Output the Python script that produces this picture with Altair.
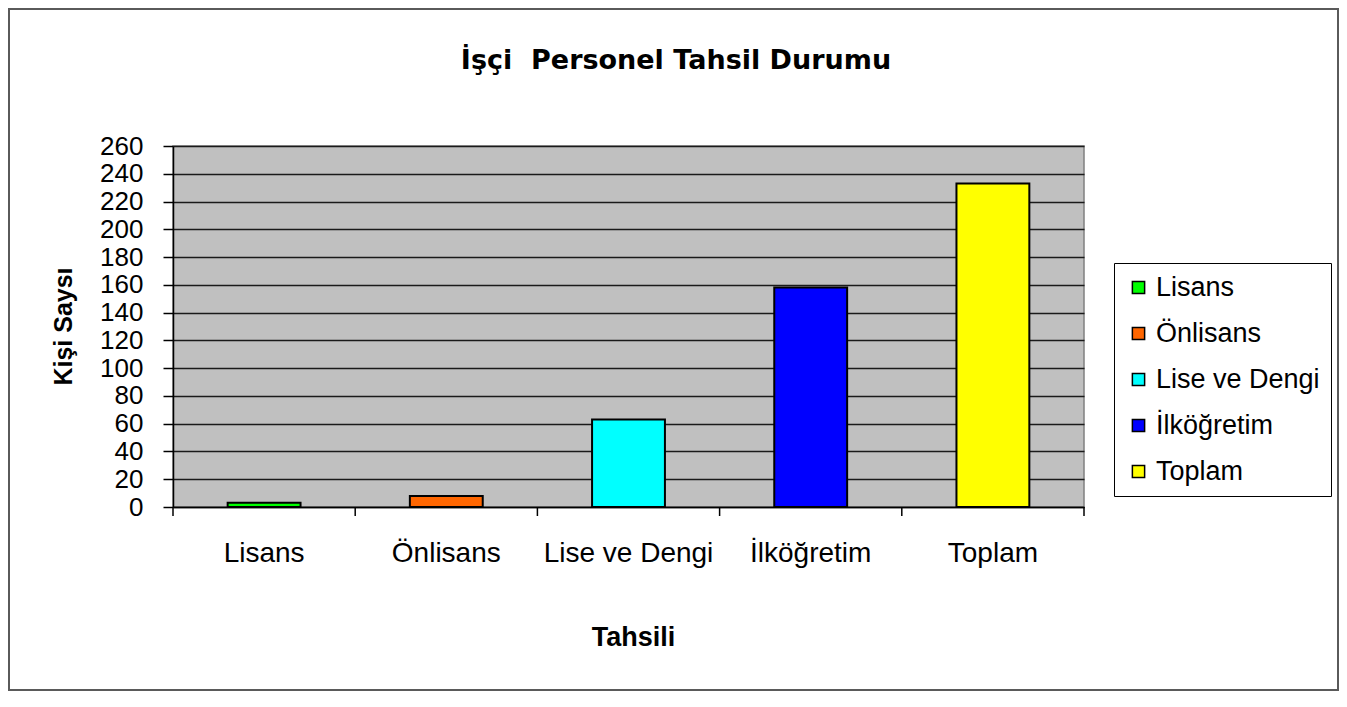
import altair as alt
import pandas as pd

categories = ["Lisans", "Önlisans", "Lise ve Dengi", "İlköğretim", "Toplam"]
values = [3, 8, 63, 158, 233]
colors = ["#00FF00", "#FF6600", "#00FFFF", "#0000FF", "#FFFF00"]
y_ticks = list(range(0, 261, 20))
chart_title = "İşçi\u00a0 Personel Tahsil Durumu"
y_title = "Kişi Saysı"
x_title = "Tahsili"

W, H = 911, 361
FONT = "Liberation Sans"

df = pd.DataFrame({"Tahsil": categories, "Kisi": values})
one = pd.DataFrame({"t": [chart_title]})

xscale = alt.Scale(domain=categories, paddingInner=0, paddingOuter=0)

bars = alt.Chart(df).mark_bar(
    stroke="black", strokeWidth=2, width=alt.RelativeBandSize(0.4)
).encode(
    x=alt.X("Tahsil:N", sort=categories, scale=xscale,
            axis=alt.Axis(title=x_title, labelAngle=0, ticks=False, tickSize=0,
                          labelPadding=32, labelFontSize=28, labelFont=FONT,
                          labelColor="black", labelLimit=400,
                          domainColor="black", domainWidth=1.5,
                          titleFont=FONT, titleFontSize=27, titleFontWeight="bold",
                          titleColor="black", titleX=460, titleY=130,
                          titleBaseline="middle", titleAlign="center")),
    y=alt.Y("Kisi:Q", scale=alt.Scale(domain=[0, 260], nice=False),
            axis=alt.Axis(title=y_title, values=y_ticks, grid=True,
                          gridColor="#1a1a1a", gridWidth=1.3,
                          tickColor="black", tickSize=10, tickWidth=1.5,
                          domainColor="black", domainWidth=1.5,
                          labelFontSize=26, labelFont=FONT, labelColor="black",
                          labelPadding=20, labelOverlap=False,
                          titleFont=FONT, titleFontSize=25, titleFontWeight="bold",
                          titleColor="black", titleX=-110, titleY=180,
                          titleAngle=270, titleBaseline="middle",
                          titleAlign="center")),
    color=alt.Color("Tahsil:N", sort=categories,
                    scale=alt.Scale(domain=categories, range=colors),
                    legend=alt.Legend(title=None, orient="none",
                                      legendX=941, legendY=117,
                                      fillColor="white", strokeColor="black",
                                      padding=11, rowPadding=18,
                                      symbolType="square", symbolSize=150,
                                      symbolStrokeColor="black",
                                      symbolStrokeWidth=1.5,
                                      labelFontSize=27, labelFont=FONT,
                                      labelColor="black", labelOffset=4,
                                      labelLimit=400)),
)

ticks = alt.Chart(df).mark_rule(color="black", strokeWidth=1.5).encode(
    x=alt.X("Tahsil:N", sort=categories, scale=xscale, bandPosition=0),
    y=alt.value(H),
    y2=alt.value(H + 9),
)

last_tick = alt.Chart(one).mark_rule(color="black", strokeWidth=1.5).encode(
    x=alt.value(W), y=alt.value(H), y2=alt.value(H + 9)
)

title = alt.Chart(one).mark_text(
    font="DejaVu Sans", fontSize=27, fontWeight="bold", color="black",
    align="center", baseline="alphabetic"
).encode(
    text="t:N", x=alt.value(503), y=alt.value(-77)
)

frame = alt.Chart(one).mark_rect(
    filled=False, stroke="#5a5a5a", strokeWidth=2
).encode(
    x=alt.value(-164), x2=alt.value(1165), y=alt.value(-137), y2=alt.value(544)
)

chart = alt.layer(frame, bars, ticks, last_tick, title).properties(
    width=W, height=H,
    autosize=alt.AutoSizeParams(type="none"),
    padding={"left": 165, "top": 138, "right": 255, "bottom": 185},
    background="white",
).configure_view(
    fill="#C0C0C0", stroke="#808080", strokeWidth=1.5
)

chart.save("out.html", embed_options={"renderer": "svg", "actions": False})
